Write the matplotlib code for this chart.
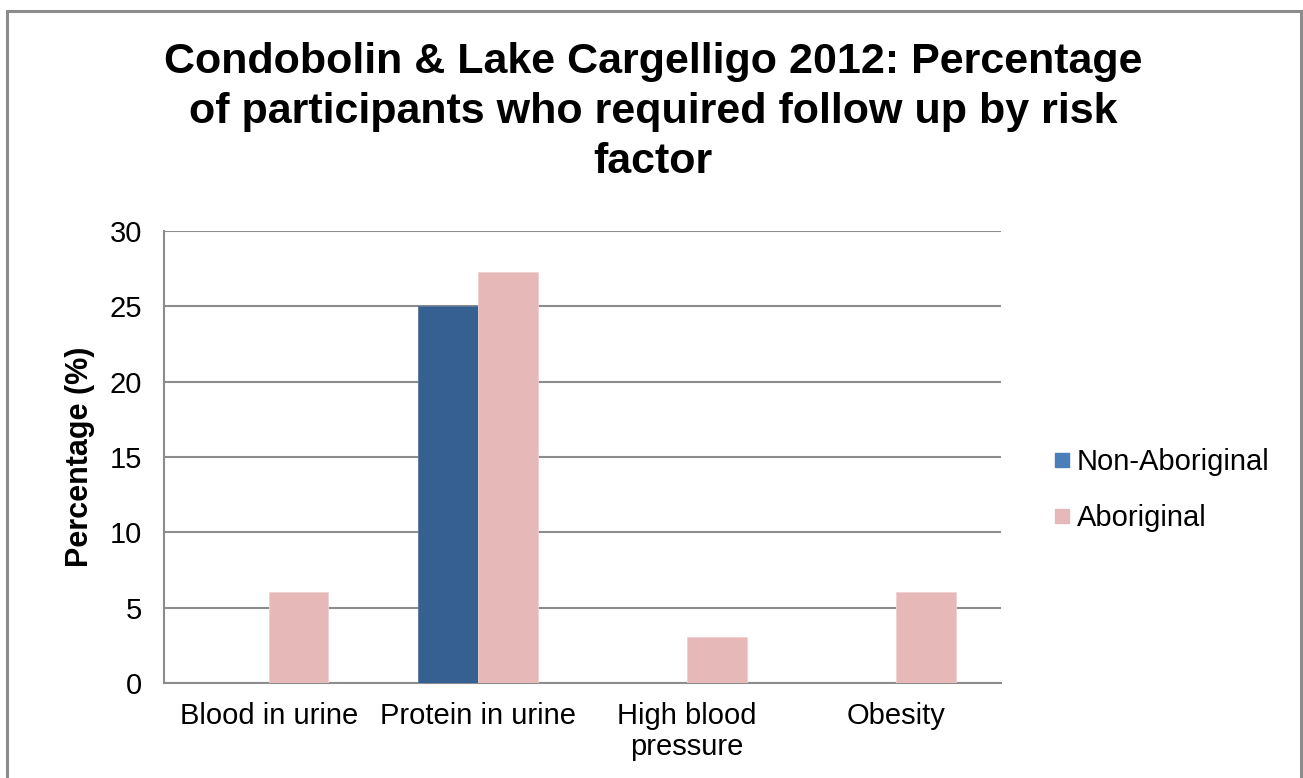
import matplotlib
matplotlib.use('Agg')
from matplotlib import pyplot as plt
from matplotlib.patches import Rectangle
from matplotlib.lines import Line2D
import numpy as np

plt.rcParams['font.family'] = ['Liberation Sans', 'DejaVu Sans']

# data
categories = ['Blood in urine', 'Protein in urine', 'High blood\npressure', 'Obesity']
non_aboriginal = [0, 25.0, 0, 0]
aboriginal = [6.06, 27.27, 3.03, 6.06]
series_names = ['Non-Aboriginal', 'Aboriginal']

title = ('Condobolin & Lake Cargelligo 2012: Percentage\n'
         'of participants who required follow up by risk\n'
         'factor')

fig = plt.figure(figsize=(13.03, 7.78), dpi=100)
W, H = 1303, 778

# outer grey frame (bottom edge runs off the picture)
fig.patches.append(Rectangle((7/W, -0.05), (1301-7)/W, 1.05 - 10.5/H,
                             transform=fig.transFigure, fill=False,
                             edgecolor='#8c8c8c', linewidth=2.2))

ax = fig.add_axes([164/W, 1 - 683/H, (1001-164)/W, (683-231)/H])

x = np.arange(len(categories))
w = 0.2857
ax.bar(x - w/2, non_aboriginal, w, color='#376092', edgecolor='#5a7699', linewidth=0.6, zorder=3)
ax.bar(x + w/2, aboriginal, w, color='#e6b8b7', edgecolor='#f0d0d0', linewidth=0.6, zorder=3)

ax.set_xlim(-0.5, len(categories) - 0.5)
ax.set_ylim(0, 30)
ax.set_yticks(np.arange(0, 31, 5))
ax.yaxis.grid(True, color='#8c8c8c', linewidth=1.5, zorder=0)
ax.set_axisbelow(True)

for s in ['top', 'right']:
    ax.spines[s].set_visible(False)
for s in ['left', 'bottom']:
    ax.spines[s].set_color('#8c8c8c')
    ax.spines[s].set_linewidth(1.5)

ax.set_xticks(x)
ax.set_xticklabels(categories, fontsize=21, linespacing=1.12)
ax.tick_params(axis='x', length=0, pad=14)
ax.tick_params(axis='y', length=0, pad=16, labelsize=21)

ax.set_ylabel('Percentage (%)', fontsize=22, fontweight='bold', labelpad=10)

fig.text(653/W, 1 - 42/H, title, ha='center', va='top', fontsize=31,
         fontweight='bold', linespacing=1.32)

handles = [Line2D([], [], marker='s', linestyle='none', markersize=10, color='#4a7ebb'),
           Line2D([], [], marker='s', linestyle='none', markersize=10, color='#e6b8b7')]
fig.legend(handles, series_names, loc='center left', bbox_to_anchor=(1039/W, 1 - 490/H),
           frameon=False, fontsize=21, handlelength=0.6, handletextpad=0.2,
           labelspacing=0.95, borderpad=0)

fig.savefig('out.png', dpi=100)
